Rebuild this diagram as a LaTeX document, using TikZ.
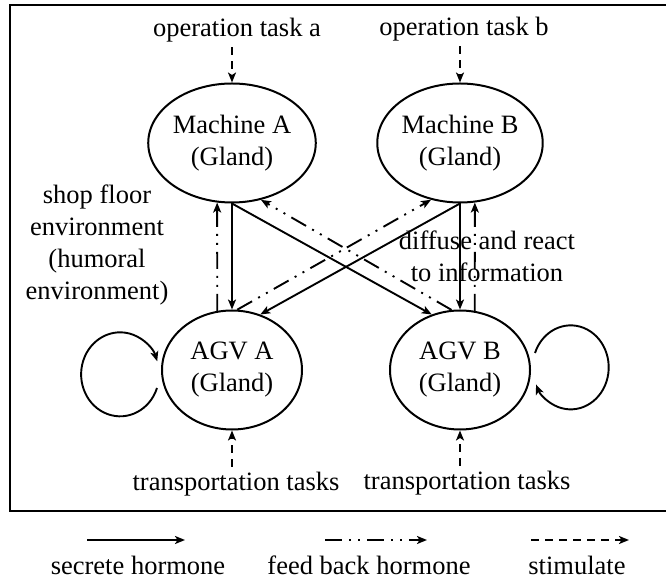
\documentclass[tikz,border=0pt]{standalone}
\usepackage{fontspec}
\setmainfont{Liberation Serif}
\usetikzlibrary{arrows.meta,shapes.geometric}
\tikzset{
  gland/.style={ellipse,draw,line width=2pt,minimum width=140pt,minimum height=119pt,align=center,inner sep=0pt},
  lbl/.style={align=center,inner sep=2pt},
  tip/.style={-{Stealth[length=10pt,width=8pt,inset=2.5pt]}},
  secrete/.style={tip,line width=1.9pt},
  feedback/.style={tip,line width=1.9pt,dash pattern=on 17pt off 7pt on 2pt off 7pt on 2pt off 7pt},
  stimulate/.style={tip,line width=1.9pt,dash pattern=on 8pt off 6pt}
}
\begin{document}
\begin{tikzpicture}[x=1pt,y=1pt,font=\fontsize{26.5}{32}\selectfont]
\clip(0,0)rectangle(666,581);
\draw[line width=2pt](10,70)rectangle(690,576);
% glands
\node[gland](ma)at(232,438){Machine A\\(Gland)};
\node[gland](mb)at(460,438){Machine B\\(Gland)};
\node[gland](aa)at(232,211){AGV A\\(Gland)};
\node[gland](ab)at(460,211){AGV B\\(Gland)};
% tasks
\node[lbl](ta)at(237,551){operation task a};
\node[lbl](tb)at(464,552){operation task b};
\node[lbl](tta)at(236,97){transportation tasks};
\node[lbl](ttb)at(467,98){transportation tasks};
\draw[stimulate,shorten <=3pt](ta.south-|ma)--(ma.north);
\draw[stimulate,shorten <=3pt](tb.south-|mb)--(mb.north);
\draw[stimulate,shorten <=3pt](tta.north-|aa)--(aa.south);
\draw[stimulate,shorten <=3pt](ttb.north-|ab)--(ab.south);
\node[lbl](env)at(97,336){shop floor\\environment\\(humoral\\environment)};
\node[lbl](info)at(487,325){diffuse and react\\to information};
% hormones
\draw[secrete](ma.south)--(aa.north);
\draw[secrete](ma.south)--(ab.117);
\draw[secrete](mb.south)--(aa.63);
\draw[secrete](mb.south)--(ab.north);
\draw[feedback](aa.104)--(ma.256);
\draw[feedback](ab.98)--(ma.297);
\draw[feedback](aa.85)--(mb.243);
\draw[feedback](ab.76)--(mb.284);
% self loops
\draw[secrete]([shift={(-4pt,-18pt)}]aa.west)arc[start angle=-19,end angle=-342,x radius=39,y radius=42];
\draw[secrete]([shift={(4pt,17pt)}]ab.east)arc[start angle=160,end angle=-156,x radius=38,y radius=42];
% legend
\coordinate(s1)at(87,41);\coordinate(s2)at(185,41);
\coordinate(f1)at(325,41);\coordinate(f2)at(427,41);
\coordinate(d1)at(531,41);\coordinate(d2)at(629,41);
\draw[secrete](s1)--(s2);
\draw[feedback](f1)--(f2);
\draw[stimulate](d1)--(d2);
\node[lbl](ls)at(138,16){secrete hormone};
\node[lbl](lf)at(369,16){feed back hormone};
\node[lbl](ld)at(577,16){stimulate};
\end{tikzpicture}
\end{document}
